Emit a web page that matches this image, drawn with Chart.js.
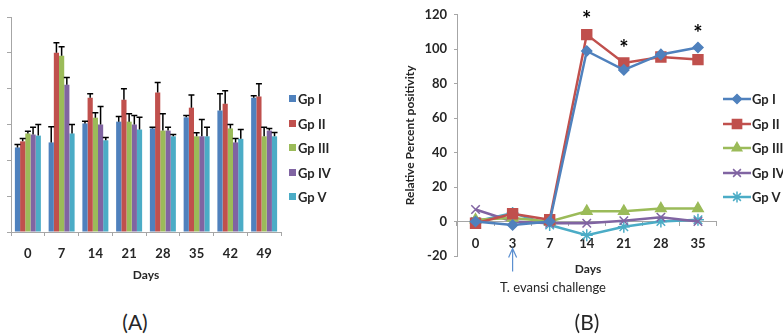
<!DOCTYPE html>
<html>
<head>
<meta charset="utf-8">
<script src="https://cdn.jsdelivr.net/npm/chart.js@4.4.1/dist/chart.umd.min.js"></script>
<style>
  html, body { margin: 0; padding: 0; background: #fff; }
  body { width: 783px; height: 334px; overflow: hidden; font-family: Lato, "Open Sans", sans-serif; color: #262626; }
  #wrap { position: relative; width: 783px; height: 334px; }
  .box { position: absolute; }
  .legend { position: absolute; font-weight: bold; font-size: 13px; }
  .legend .row { position: absolute; left: 0; height: 14px; line-height: 14px; white-space: nowrap; }
  .legend .sw { position: absolute; left: 0; top: 3px; width: 7px; height: 7px; }
  .legend .lbl { position: absolute; top: 0; }
  .note { position: absolute; white-space: nowrap; transform: translate(-50%, -50%); }
</style>
</head>
<body>
<div id="wrap">
  <div class="box" style="left:0;top:0;width:290px;height:300px"><canvas id="chartA"></canvas></div>
  <div class="legend" id="legendA" style="left:289px;top:0"></div>
  <div class="box" style="left:395px;top:0;width:330px;height:300px"><canvas id="chartB"></canvas></div>
  <div class="legend" id="legendB" style="left:723px;top:0"></div>
  <div class="note" style="left:588px;top:268px;font-weight:bold;font-size:12px">Days</div>
  <div class="note" style="left:553px;top:287px;font-size:13px">T. evansi challenge</div>
  <div class="note" style="left:135px;top:321px;font-size:21px">(A)</div>
  <div class="note" style="left:587px;top:321px;font-size:21px">(B)</div>
</div>
<script>
(function () {
  "use strict";

  // ── Data ─────────────────────────────────────────────────────────

  const groupNames = ["Gp I", "Gp II", "Gp III", "Gp IV", "Gp V"];
  const groupColors = ["#4f81bd", "#c0504d", "#9bbb59", "#8064a2", "#4bacc6"];

  // panel A: bars (unlabelled y axis, one tick = 1 unit)
  const daysA = ["0", "7", "14", "21", "28", "35", "42", "49"];
  const barsGp1 = [2.36, 2.5, 3.03, 3.08, 2.89, 3.2, 3.39, 3.75];
  const barsGp2 = [2.53, 5.0, 3.75, 3.69, 3.89, 3.47, 3.58, 3.78];
  const barsGp3 = [2.75, 4.92, 3.19, 3.08, 2.83, 2.67, 2.89, 2.67];
  const barsGp4 = [2.72, 4.11, 3.0, 3.0, 2.83, 2.67, 2.5, 2.83];
  const barsGp5 = [2.69, 2.75, 2.56, 2.86, 2.67, 2.67, 2.6, 2.67];
  const errGp1 = [0.08, 0.44, 0.06, 0.14, 0.03, 0.05, 0.47, 0.05];
  const errGp2 = [0.08, 0.28, 0.11, 0.31, 0.28, 0.35, 0.36, 0.36];
  const errGp3 = [0.06, 0.25, 0.14, 0.22, 0.47, 0.1, 0.11, 0.25];
  const errGp4 = [0.2, 0.2, 0.5, 0.25, 0.09, 0.47, 0.11, 0.06];
  const errGp5 = [0.31, 0.25, 0.08, 0.34, 0.05, 0.25, 0.26, 0.11];

  // panel B: relative percent positivity
  const daysB = ["0", "3", "7", "14", "21", "28", "35"];
  const rppGp1 = [0, -2, 0, 99, 88, 97, 101];
  const rppGp2 = [-1, 4.5, 1, 108.5, 92, 95.5, 94];
  const rppGp3 = [1, 2, 0, 6, 6, 7.5, 7.5];
  const rppGp4 = [7, 0, -1, -1, 0.5, 2.5, 0];
  const rppGp5 = [0, 5, -2, -8, -3, 0, 1];
  const starDays = ["14", "21", "35"];
  const starLevels = [120, 103, 112];
  const challengeDay = "3";

  const pointStyles = ["rectRot", "rect", "triangle", "crossRot", "star"];
  const pointSizes = [5, 7, 6, 6, 6];

  const TEXT = "#262626";
  const AXIS = "#a6a6a6";
  const FONT = "Lato, 'Open Sans', sans-serif";

  // ── Plugins ──────────────────────────────────────────────────────

  const errorBars = {
    id: "errorBars",
    afterDatasetsDraw: function (chart) {
      const ctx = chart.ctx;
      const y = chart.scales.y;
      ctx.save();
      ctx.strokeStyle = "#000";
      ctx.lineWidth = 1.5;
      chart.data.datasets.forEach(function (ds, i) {
        chart.getDatasetMeta(i).data.forEach(function (bar, j) {
          const top = y.getPixelForValue(ds.data[j] + ds.err[j]);
          ctx.beginPath();
          ctx.moveTo(bar.x, bar.y);
          ctx.lineTo(bar.x, top);
          ctx.moveTo(bar.x - 3, top);
          ctx.lineTo(bar.x + 3, top);
          ctx.stroke();
        });
      });
      ctx.restore();
    },
  };

  const marks = {
    id: "marks",
    afterDraw: function (chart) {
      const ctx = chart.ctx;
      const x = chart.scales.x;
      const y = chart.scales.y;
      ctx.save();
      ctx.fillStyle = "#000";
      ctx.font = "bold 22px " + FONT;
      ctx.textAlign = "center";
      ctx.textBaseline = "middle";
      starDays.forEach(function (d, i) {
        ctx.fillText("*", x.getPixelForValue(daysB.indexOf(d)), y.getPixelForValue(starLevels[i]) + 5);
      });
      // arrow under the challenge day
      const ax = x.getPixelForValue(daysB.indexOf(challengeDay));
      const zero = y.getPixelForValue(0);
      ctx.strokeStyle = "#5b8fd0";
      ctx.lineWidth = 1.2;
      ctx.beginPath();
      ctx.moveTo(ax, zero + 50);
      ctx.lineTo(ax, zero + 27);
      ctx.moveTo(ax - 4, zero + 36);
      ctx.lineTo(ax, zero + 27);
      ctx.lineTo(ax + 4, zero + 36);
      ctx.stroke();
      ctx.restore();
    },
  };

  // ── Legends ──────────────────────────────────────────────────────

  function buildLegend(id, withLine) {
    const el = document.getElementById(id);
    groupNames.forEach(function (name, i) {
      const row = document.createElement("div");
      row.className = "row";
      row.style.top = 92 + i * 24.5 + "px";
      if (withLine) {
        const c = document.createElement("canvas");
        c.width = 28; c.height = 14;
        c.style.position = "absolute"; c.style.left = "0"; c.style.top = "0";
        const g = c.getContext("2d");
        g.strokeStyle = groupColors[i]; g.lineWidth = 2.5;
        g.beginPath(); g.moveTo(0, 7); g.lineTo(28, 7); g.stroke();
        g.fillStyle = groupColors[i];
        g.strokeStyle = groupColors[i];
        g.lineWidth = 1.5;
        Chart.helpers.drawPoint(g, { pointStyle: pointStyles[i], radius: pointSizes[i] - 0.5, borderWidth: 1.5 }, 14, 7);
        row.appendChild(c);
      } else {
        const sw = document.createElement("div");
        sw.className = "sw";
        sw.style.background = groupColors[i];
        row.appendChild(sw);
      }
      const lbl = document.createElement("span");
      lbl.className = "lbl";
      lbl.style.left = (withLine ? 29 : 9) + "px";
      lbl.textContent = name;
      row.appendChild(lbl);
      el.appendChild(row);
    });
  }

  // ── Charts ───────────────────────────────────────────────────────

  Chart.defaults.font.family = FONT;
  Chart.defaults.color = TEXT;

  const barData = [barsGp1, barsGp2, barsGp3, barsGp4, barsGp5];
  const errData = [errGp1, errGp2, errGp3, errGp4, errGp5];

  new Chart(document.getElementById("chartA"), {
    type: "bar",
    data: {
      labels: daysA,
      datasets: groupNames.map(function (name, i) {
        return {
          label: name,
          data: barData[i],
          err: errData[i],
          backgroundColor: groupColors[i],
          borderWidth: 0,
          categoryPercentage: 0.77,
          barPercentage: 1.0,
        };
      }),
    },
    options: {
      responsive: true,
      maintainAspectRatio: false,
      animation: false,
      layout: { padding: { left: 0, right: 9, top: 17, bottom: 0 } },
      plugins: { legend: { display: false }, tooltip: { enabled: false } },
      scales: {
        x: {
          grid: { drawOnChartArea: false, drawTicks: true, tickLength: 4, color: AXIS, offset: true },
          border: { color: AXIS },
          ticks: { font: { size: 13, weight: "bold" }, padding: 10, color: TEXT },
          title: { display: true, text: "Days", font: { size: 12, weight: "bold" }, padding: { top: 0, bottom: 18 }, color: TEXT },
          afterFit: function (s) { s.height = 68; },
        },
        y: {
          min: 0,
          max: 6,
          ticks: { display: false, stepSize: 1 },
          grid: { drawOnChartArea: false, drawTicks: true, tickLength: 4, color: AXIS },
          border: { color: AXIS },
          afterFit: function (s) { s.width = 11; },
        },
      },
    },
    plugins: [errorBars],
  });

  const lineData = [rppGp1, rppGp2, rppGp3, rppGp4, rppGp5];

  new Chart(document.getElementById("chartB"), {
    type: "line",
    data: {
      labels: daysB,
      datasets: groupNames.map(function (name, i) {
        return {
          label: name,
          data: lineData[i],
          borderColor: groupColors[i],
          backgroundColor: groupColors[i],
          borderWidth: 2.5,
          pointStyle: pointStyles[i],
          pointRadius: pointSizes[i],
          pointBorderWidth: 1.5,
          tension: 0,
        };
      }),
    },
    options: {
      responsive: true,
      maintainAspectRatio: false,
      animation: false,
      layout: { padding: { left: 0, right: 7, top: 13, bottom: 44 } },
      plugins: { legend: { display: false }, tooltip: { enabled: false } },
      scales: {
        x: {
          position: { y: 0 },
          offset: true,
          grid: { drawOnChartArea: false, drawTicks: true, tickLength: 4, color: AXIS, offset: true },
          border: { color: AXIS },
          ticks: { font: { size: 13, weight: "bold" }, padding: 10, color: TEXT },
        },
        y: {
          min: -20,
          max: 120,
          ticks: { stepSize: 20, font: { size: 13, weight: "bold" }, padding: 7, color: TEXT },
          grid: { drawOnChartArea: false, drawTicks: true, tickLength: 3, color: AXIS },
          border: { color: AXIS },
          title: { display: true, text: "Relative Percent positivity", font: { size: 12, weight: "bold" }, padding: { top: 8, bottom: 0 }, color: TEXT },
          afterFit: function (s) { s.width = 62; },
        },
      },
    },
    plugins: [marks],
  });

  buildLegend("legendA", false);
  buildLegend("legendB", true);
})();
</script>
</body>
</html>
